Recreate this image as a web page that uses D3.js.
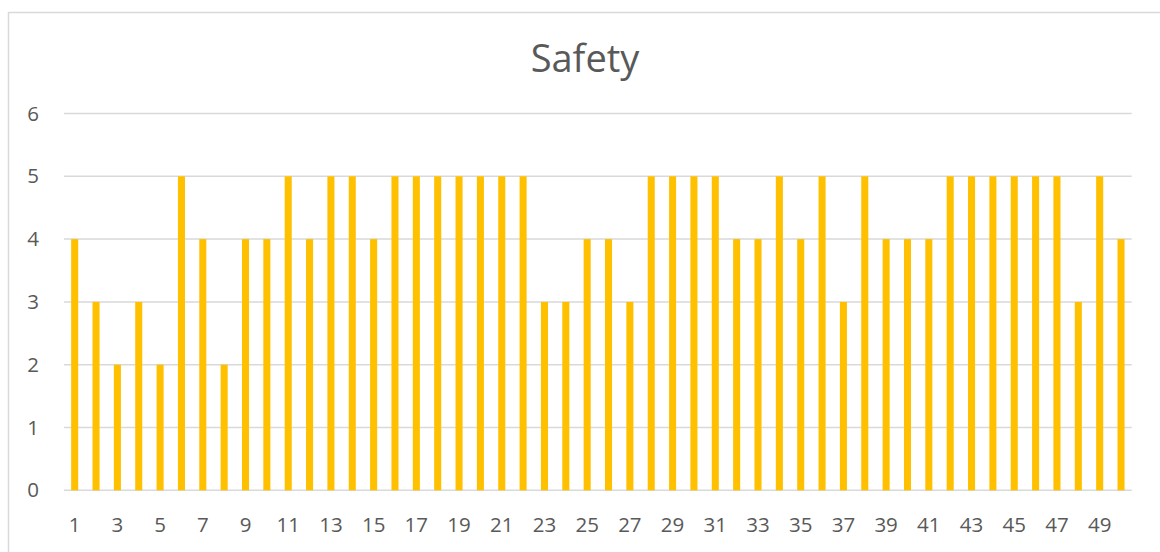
<!DOCTYPE html>
<html>
<head>
<meta charset="utf-8">
<script src="https://cdn.jsdelivr.net/npm/d3@7"></script>
<style>
  body { margin: 0; background: #fff; }
  text { font-family: "Open Sans", Lato, sans-serif; fill: #595959; }
</style>
</head>
<body>
<svg id="canvas"></svg>
<script>
// chart data
let title = "Safety"
let categories = d3.range(1, 51)
let values = [4, 3, 2, 3, 2, 5, 4, 2, 4, 4,
              5, 4, 5, 5, 4, 5, 5, 5, 5, 5,
              5, 5, 3, 3, 4, 4, 3, 5, 5, 5,
              5, 4, 4, 5, 4, 5, 3, 5, 4, 4,
              4, 5, 5, 5, 5, 5, 5, 3, 5, 4]
let yTicks = [0, 1, 2, 3, 4, 5, 6]

let width = 1160, height = 552
let margin = {left: 64, right: 1160 - 1131.7, top: 113.5, bottom: 552 - 490.3}

let svg = d3.select("#canvas")
    .attr("width", width)
    .attr("height", height)

// chart area border
svg.append("rect")
    .attr("x", 8.5).attr("y", 12.5)
    .attr("width", 1170).attr("height", 600)
    .attr("fill", "none")
    .attr("stroke", "#d9d9d9")
    .attr("stroke-width", 1.5)

let x = d3.scaleBand()
    .domain(categories)
    .range([margin.left, width - margin.right])
    .paddingInner(0.67)
    .paddingOuter(0.335)

let y = d3.scaleLinear()
    .domain([0, 6])
    .range([height - margin.bottom, margin.top])

// gridlines
svg.append("g").selectAll("line")
    .data(yTicks)
    .enter().append("line")
    .attr("x1", margin.left)
    .attr("x2", width - margin.right)
    .attr("y1", d => y(d))
    .attr("y2", d => y(d))
    .attr("stroke", "#d9d9d9")
    .attr("stroke-width", 1.5)

// y labels
svg.append("g").selectAll("text")
    .data(yTicks)
    .enter().append("text")
    .attr("x", 39)
    .attr("y", d => y(d))
    .attr("dy", "0.35em")
    .attr("text-anchor", "end")
    .style("font-size", "20.5px")
    .text(d => d)

// bars
svg.append("g").selectAll("rect")
    .data(values)
    .enter().append("rect")
    .attr("x", (d, i) => x(categories[i]))
    .attr("width", x.bandwidth())
    .attr("y", d => y(d))
    .attr("height", d => y(0) - y(d))
    .attr("fill", "#FFC000")

// x labels, every other category
svg.append("g").selectAll("text")
    .data(categories.filter((d, i) => i % 2 === 0))
    .enter().append("text")
    .attr("x", d => x(d) + x.bandwidth() / 2)
    .attr("y", 525)
    .attr("dy", "0.35em")
    .attr("text-anchor", "middle")
    .style("font-size", "20.5px")
    .text(d => d)

// title
svg.append("text")
    .attr("x", 585)
    .attr("y", 72)
    .attr("text-anchor", "middle")
    .style("font-size", "38px")
    .text(title)
</script>
</body>
</html>
